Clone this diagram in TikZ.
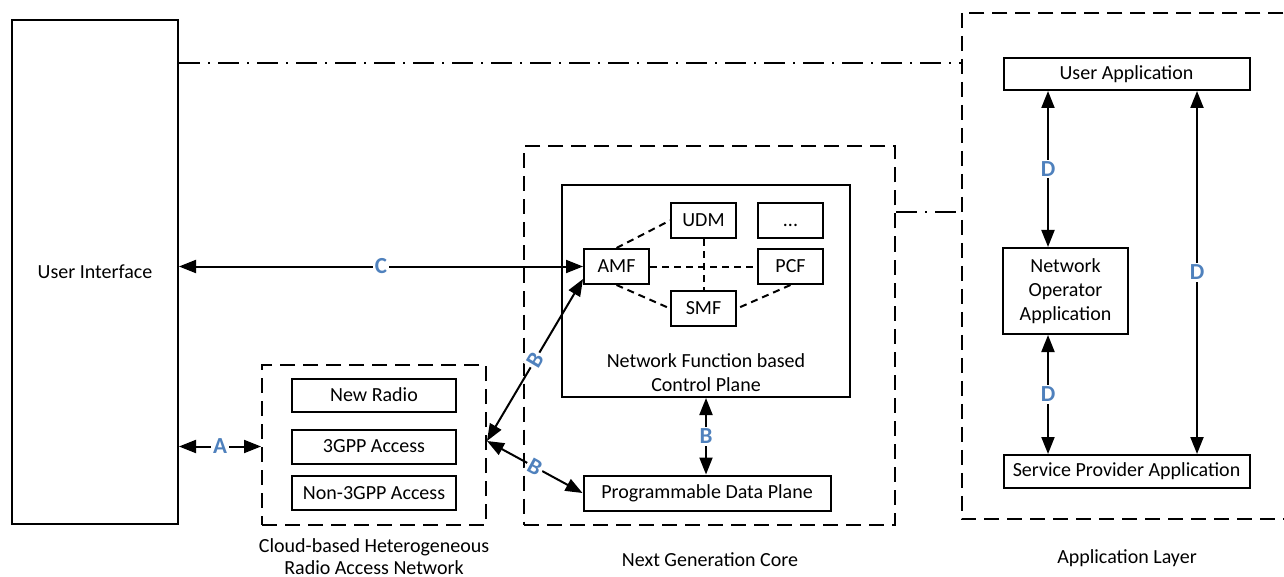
\documentclass[tikz,border=0pt]{standalone}
\usepackage{fontspec}
\setmainfont{Carlito}
\usepackage{xcolor}
\usetikzlibrary{arrows.meta,positioning,calc}
\definecolor{lblue}{RGB}{79,129,189}

\begin{document}
\begin{tikzpicture}[x=0.5pt,y=-0.5pt,font=\fontsize{10}{12}\selectfont,
		box/.style={rectangle, draw, line width=1pt, inner sep=0pt, align=center},
		dashes/.style={line width=1pt, dash pattern=on 7.5pt off 4pt},
		group/.style={rectangle, draw, dashes, inner sep=0pt},
		nf/.style={line width=1pt, dash pattern=on 3.5pt off 2.5pt},
		link/.style={line width=1pt, {Triangle[length=8.5pt,width=6.5pt]}-{Triangle[length=8.5pt,width=6.5pt]}},
		layerlink/.style={line width=1pt, dash pattern=on 10.5pt off 4pt on 1pt off 4pt},
		ref/.style={fill=white, text=lblue, font=\fontsize{11.5}{13}\selectfont\bfseries, inner sep=1pt}]
				\useasboundingbox (0,0) rectangle (1284,577);
				
				% user side
				\node[box, minimum width=83pt, minimum height=252pt] (ui) at (95,272) {User Interface};
				
				% radio access network
				\node[group, minimum width=112pt, minimum height=80pt] (ran) at (374,445) {};
				\node[box, minimum width=82pt, minimum height=16.5pt] (nr) at (374,395) {New Radio};
				\node[box, minimum width=82pt, minimum height=17pt] (gpp) at (374,446.5) {3GPP Access};
				\node[box, minimum width=82pt, minimum height=17pt] (ngpp) at (374,493) {Non-3GPP Access};
				\node[align=center, font=\fontsize{10}{11}\selectfont] (ranlbl) at (374,557) {Cloud-based Heterogeneous\\Radio Access Network};
				
				% core
				\node[group, minimum width=185.5pt, minimum height=189pt] (ngc) at (709.5,335.5) {};
				\node[box, minimum width=144pt, minimum height=106pt] (cp) at (706,291) {};
				\node[align=center] (cplbl) at (706,373) {Network Function based\\Control Plane};
				\node[box, minimum width=32.5pt, minimum height=17.5pt] (udm) at (703.5,220.5) {UDM};
				\node[box, minimum width=32.5pt, minimum height=17.5pt] (etc) at (790.5,220.5) {\vphantom{UDM}...};
				\node[box, minimum width=32.5pt, minimum height=17.5pt] (amf) at (616.5,266.5) {AMF};
				\node[box, minimum width=32.5pt, minimum height=17.5pt] (pcf) at (790.5,266.5) {PCF};
				\node[box, minimum width=32.5pt, minimum height=17.5pt] (smf) at (703.5,308.5) {SMF};
				\node[box, minimum width=123.5pt, minimum height=17.5pt] (dp) at (707,493) {Programmable Data Plane};
				\node (ngclbl) at (710,560) {Next Generation Core};
				
				\draw[nf] (amf.north) -- (udm.west);
				\draw[nf] (amf.south) -- (smf.west);
				\draw[nf] (pcf.south) -- (smf.east);
				\draw[nf] (amf.east) -- (pcf.west);
				\draw[nf] (udm.south) -- (smf.north);
				
				% application layer (runs past the right border)
				\node[minimum width=172pt, minimum height=253pt, inner sep=0pt] (app) at (1134,266) {};
				\draw[dashes] (app.north east) -- (app.north west) -- (app.south west) -- (app.south east);
				\node[box, minimum width=123pt, minimum height=16pt] (ua) at (1126.5,74) {User Application};
				\node[box, minimum width=62.5pt, minimum height=43pt] (noa) at (1065.5,291) {Network\\Operator\\Application};
				\node[box, minimum width=123pt, minimum height=16.5pt] (spa) at (1126.5,471.5) {Service Provider Application};
				\node (applbl) at (1127,558) {Application Layer};
				
				\coordinate (dl) at (1048,0);
				\coordinate (dr) at (1197,0);
				\draw[link] (ua.south -| dl) -- node[ref] {D} (noa.north -| dl);
				\draw[link] (noa.south -| dl) -- node[ref] {D} (spa.north -| dl);
				\draw[link] (ua.south -| dr) -- node[ref] {D} (spa.north -| dr);
				
				% interfaces
				\draw[link] (ui.east |- amf.west) -- node[ref] {C} (amf.west);
				\draw[link] (ui.east |- gpp) -- node[ref] {A} (ran.west |- gpp);
				\coordinate (ranport) at ($(ran.east)+(0,-4)$);
				\coordinate (amfport) at ($(amf.south west)+(0,-6)$);
				\draw[link] (ranport) -- node[ref, sloped] {B} (amfport);
				\draw[link] (ranport) -- node[ref, sloped] {B} (dp.west);
				\draw[link] (cp.south) -- node[ref] {B} (cp.south |- dp.north);
				
				% layer relations
				\coordinate (uitop) at ([yshift=-22pt]ui.north east);
				\coordinate (ngctop) at ([yshift=61.75pt]ngc.east);
				\draw[layerlink] (uitop) -- (uitop -| app.west);
				\draw[layerlink] (ngctop) -- (ngctop -| app.west);
			\end{tikzpicture}
\end{document}
